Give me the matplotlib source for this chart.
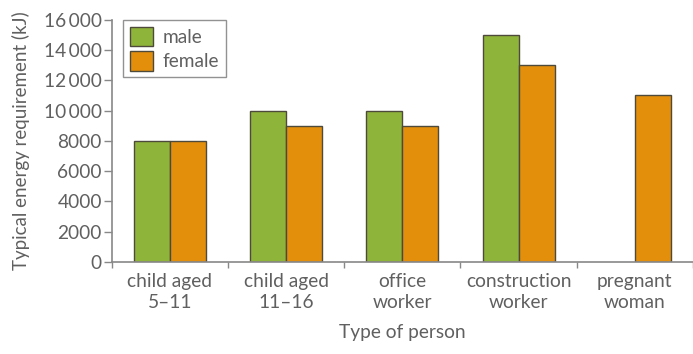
import matplotlib
matplotlib.use('Agg')

import numpy as np
import matplotlib.pyplot as plt
from matplotlib.patches import Patch

categories = ["child aged\n5\u201311", "child aged\n11\u201316", "office\nworker",
              "construction\nworker", "pregnant\nwoman"]
male = [8000, 10000, 10000, 15000, np.nan]
female = [8000, 9000, 9000, 13000, 11000]
yticks = [0, 2000, 4000, 6000, 8000, 10000, 12000, 14000, 16000]
ytick_labels = ["0", "2000", "4000", "6000", "8000", "10\u2009000", "12\u2009000", "14\u2009000", "16\u2009000"]

green = "#8fb43a"
orange = "#e38f0c"
edge = "#4d4a3c"
grey = "#606060"

plt.rcParams['font.family'] = ['Lato', 'DejaVu Sans']
fs = 13.8

fig = plt.figure(figsize=(6.93, 3.54), dpi=100)
ax = fig.add_axes([0.161, 0.26, 0.839, 0.684])

x = np.arange(len(categories))
w = 0.31
ax.bar(x - w / 2, male, w, color=green, edgecolor=edge, linewidth=1.0)
ax.bar(x + w / 2, female, w, color=orange, edgecolor=edge, linewidth=1.0)

ax.set_xlim(-0.5, 4.41)
ax.set_ylim(0, 16000)
ax.set_yticks(yticks)
ax.set_yticklabels(ytick_labels)

# category boundaries as ticks, labels at centres
ax.set_xticks(np.arange(len(categories) + 1) - 0.5)
ax.set_xticklabels([])
ax.set_xticks(x, minor=True)
ax.set_xticklabels(categories, minor=True, linespacing=1.25)
ax.tick_params(axis='x', which='minor', length=0, pad=8, labelsize=fs, colors=grey)
ax.tick_params(axis='x', which='major', length=4, width=1, color="#888888", direction='out')
ax.tick_params(axis='y', length=6, width=1, color="#888888", labelsize=fs, labelcolor=grey, pad=1)

for s in ['top', 'right']:
    ax.spines[s].set_visible(False)
for s in ['left', 'bottom']:
    ax.spines[s].set_color("#888888")
    ax.spines[s].set_linewidth(1.2)

ax.set_xlabel("Type of person", fontsize=fs, color=grey, labelpad=10)
ax.set_ylabel("Typical energy requirement (kJ)", fontsize=13.5, color=grey, labelpad=10)

handles = [Patch(facecolor=green, edgecolor=edge, label="male"),
           Patch(facecolor=orange, edgecolor=edge, label="female")]
leg = ax.legend(handles=handles, loc='upper left', bbox_to_anchor=(0.02, 1.0),
                borderaxespad=0, fontsize=fs, frameon=True, fancybox=False,
                handlelength=1.2, handleheight=1.2, handletextpad=0.5,
                borderpad=0.35, labelspacing=0.25)
leg.get_frame().set_edgecolor("#777777")
leg.get_frame().set_linewidth(1.0)
for t in leg.get_texts():
    t.set_color(grey)

fig.savefig("out.png", dpi=100)
